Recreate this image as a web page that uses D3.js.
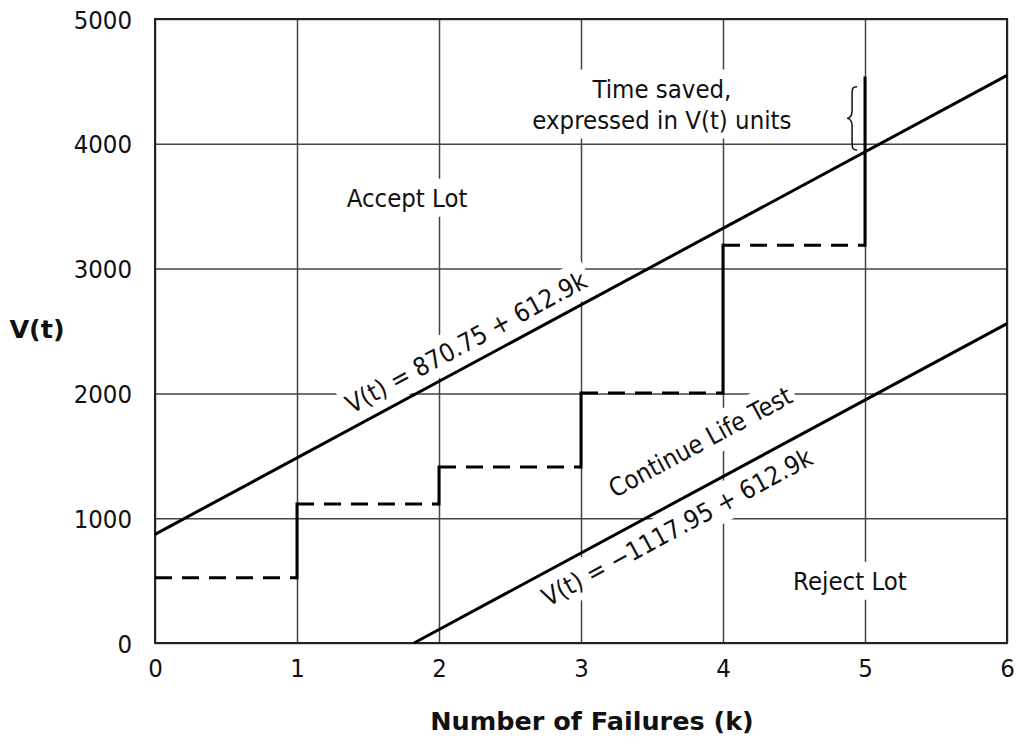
<!DOCTYPE html>
<html>
<head>
<meta charset="utf-8">
<script src="https://cdn.jsdelivr.net/npm/d3@7"></script>
<style>
  body { margin: 0; background: #fff; }
  svg text { font-family: "DejaVu Sans Condensed", "DejaVu Sans", sans-serif; fill: #111; }
  .tick line { stroke: #444; stroke-width: 1.5; }
  .tick text { font-size: 25.5px; }
  .title { font-family: "DejaVu Sans", sans-serif !important; font-weight: bold; font-size: 25.5px; }
  .note { font-size: 25.5px; }
</style>
</head>
<body>
<div id="chartDiv"></div>
<script>
// tick values
const kTicks = [0, 1, 2, 3, 4, 5, 6]
const vTicks = [0, 1000, 2000, 3000, 4000, 5000]

// decision lines  V(t) = a + b*k
const acceptLine = { a: 870.75, b: 612.9 }
const rejectLine = { a: -1117.95, b: 612.9 }

// accumulated test time at each failure (step path)
const stepK = [0, 1, 2, 3, 4, 5]
const stepV = [523, 1114, 1410, 2003, 3188, 4527]

// brace spanning the time saved at k = 5
const braceK = 4.93
const braceV = [3950, 4458]

// text annotations, positioned in data units
const notes = [
    { lines: ["Accept Lot"], k: 1.775, v: 3570, rot: false },
    { lines: ["Reject Lot"], k: 4.894, v: 500, rot: false },
    { lines: ["V(t) = 870.75 + 612.9k"], k: 2.19, v: 2412, rot: true },
    { lines: ["V(t) = \u22121117.95 + 612.9k"], k: 3.676, v: 929, rot: true },
    { lines: ["Continue Life Test"], k: 3.838, v: 1612, rot: true },
    { lines: ["Time saved,", "expressed in V(t) units"], k: 3.57, v: 4320, rot: false }
]

const W = 1017, H = 740
const margin = { left: 155, right: 10, top: 19, bottom: 97 }

let svgObj = d3.select('#chartDiv').append('svg').attr('width', W).attr('height', H)

let xScale = d3.scaleLinear().domain([0, 6]).range([margin.left, W - margin.right])
let yScale = d3.scaleLinear().domain([0, 5000]).range([H - margin.bottom, margin.top])

// grid + tick labels
svgObj.append('g')
    .attr('transform', `translate(0,${H - margin.bottom})`)
    .call(d3.axisBottom(xScale).tickValues(kTicks).tickFormat(d3.format('d'))
        .tickSize(-(H - margin.top - margin.bottom)).tickPadding(16))
    .call(g => g.select('.domain').remove())
    .call(g => g.selectAll('text').attr('fill', '#111'))

svgObj.append('g')
    .attr('transform', `translate(${margin.left},0)`)
    .call(d3.axisLeft(yScale).tickValues(vTicks).tickFormat(d3.format('d'))
        .tickSize(-(W - margin.left - margin.right)).tickPadding(23))
    .call(g => g.select('.domain').remove())
    .call(g => g.selectAll('text').attr('fill', '#111').attr('dy', '0.36em'))

svgObj.selectAll('.tick text').attr('font-family', null)

// plot frame
svgObj.append('rect')
    .attr('x', xScale(0)).attr('y', yScale(5000))
    .attr('width', xScale(6) - xScale(0)).attr('height', yScale(0) - yScale(5000))
    .attr('fill', 'none').attr('stroke', '#222').attr('stroke-width', 2)

// slope angle of the decision lines in screen space
let angle = Math.atan2(yScale(acceptLine.b) - yScale(0), xScale(1) - xScale(0)) * 180 / Math.PI

// annotation groups: white box behind the text
let noteG = svgObj.append('g').selectAll('g')
    .data(notes)
    .enter().append('g')
    .attr('transform', d => `translate(${xScale(d.k)},${yScale(d.v)})` + (d.rot ? ` rotate(${angle})` : ''))

noteG.append('rect').attr('fill', '#fff')

let lineH = 31
noteG.append('text')
    .attr('class', 'note')
    .attr('text-anchor', 'middle')
    .selectAll('tspan')
    .data(d => d.lines.map((t, i) => ({ t, i, n: d.lines.length })))
    .enter().append('tspan')
    .attr('x', 0)
    .attr('y', d => (d.i - (d.n - 1) / 2) * lineH)
    .attr('dy', '0.36em')
    .text(d => d.t)

noteG.each(function() {
    let bb = d3.select(this).select('text').node().getBBox()
    let pad = 4
    d3.select(this).select('rect')
        .attr('x', bb.x - pad).attr('y', bb.y - pad)
        .attr('width', bb.width + 2 * pad).attr('height', bb.height + 2 * pad)
})

// decision lines
const lineGen = d3.line().x(d => xScale(d[0])).y(d => yScale(d[1]))
let acceptPts = [[0, acceptLine.a], [6, acceptLine.a + 6 * acceptLine.b]]
let k0 = -rejectLine.a / rejectLine.b
let rejectPts = [[k0, 0], [6, rejectLine.a + 6 * rejectLine.b]]

svgObj.append('path').attr('d', lineGen(acceptPts))
    .attr('fill', 'none').attr('stroke', '#000').attr('stroke-width', 3)
svgObj.append('path').attr('d', lineGen(rejectPts))
    .attr('fill', 'none').attr('stroke', '#000').attr('stroke-width', 3)

// dashed horizontal levels
let flats = stepK.slice(0, -1).map((k, i) => [[k, stepV[i]], [k + 1, stepV[i]]])
svgObj.append('g').selectAll('path')
    .data(flats)
    .enter().append('path')
    .attr('d', d => lineGen(d))
    .attr('fill', 'none').attr('stroke', '#000').attr('stroke-width', 3)
    .attr('stroke-dasharray', '17,10')

// solid risers at each failure
let risers = stepK.slice(1).map((k, i) => [[k, stepV[i]], [k, stepV[i + 1]]])
svgObj.append('g').selectAll('path')
    .data(risers)
    .enter().append('path')
    .attr('d', d => lineGen(d))
    .attr('fill', 'none').attr('stroke', '#000').attr('stroke-width', 3)
    .attr('stroke-linecap', 'square')

// brace
let xr = xScale(braceK) + 2, xl = xr - 10, xm = xl + 5
let yt = yScale(braceV[1]), yb = yScale(braceV[0]), ym = (yt + yb) / 2
svgObj.append('path')
    .attr('d', `M${xr},${yt} C${xr - 4},${yt} ${xm},${yt + 1} ${xm},${yt + 8} L${xm},${ym - 7} C${xm},${ym - 2} ${xl + 2},${ym} ${xl},${ym} ` +
        `C${xl + 2},${ym} ${xm},${ym + 2} ${xm},${ym + 7} L${xm},${yb - 8} C${xm},${yb - 1} ${xr - 4},${yb} ${xr},${yb}`)
    .attr('fill', 'none').attr('stroke', '#111').attr('stroke-width', 1.5)

// axis titles
svgObj.append('text').attr('class', 'title')
    .attr('x', 37).attr('y', 329).attr('dy', '0.36em')
    .attr('text-anchor', 'middle').text('V(t)')
svgObj.append('text').attr('class', 'title')
    .attr('x', 592).attr('y', 730)
    .attr('text-anchor', 'middle').text('Number of Failures (k)')
</script>
</body>
</html>
